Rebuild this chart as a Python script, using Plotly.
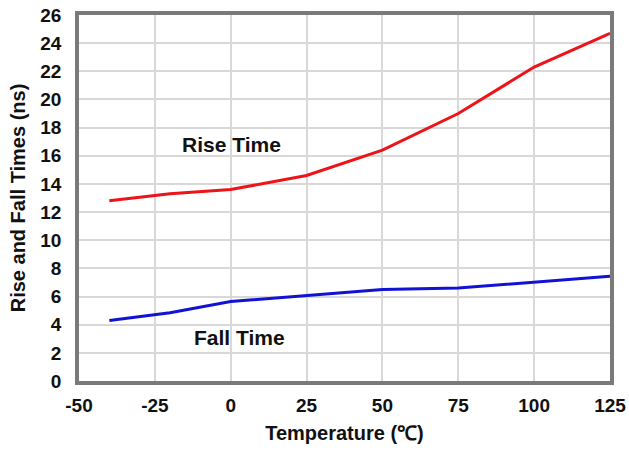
import plotly.graph_objects as go

temps = [-40, -20, 0, 25, 50, 75, 100, 125]
rise_ns = [12.8, 13.3, 13.6, 14.6, 16.4, 19.0, 22.3, 24.7]
fall_ns = [4.3, 4.85, 5.65, 6.1, 6.5, 6.6, 7.0, 7.45]

x_ticks = [-50, -25, 0, 25, 50, 75, 100, 125]
y_ticks = list(range(0, 27, 2))

font = "Liberation Sans, Arial, sans-serif"
ink = "#111111"

fig = go.Figure()
fig.add_trace(go.Scatter(x=temps, y=rise_ns, mode="lines", name="Rise Time",
                         line=dict(color="#ec1418", width=3)))
fig.add_trace(go.Scatter(x=temps, y=fall_ns, mode="lines", name="Fall Time",
                         line=dict(color="#1212d4", width=3)))

fig.add_annotation(x=0.3, y=16.8, text="<b>Rise Time</b>", showarrow=False,
                   font=dict(size=21, color=ink, family=font))
fig.add_annotation(x=3, y=3.1, text="<b>Fall Time</b>", showarrow=False,
                   font=dict(size=21, color=ink, family=font))

axis_common = dict(
    showgrid=True, gridcolor="#d8d8d8", gridwidth=2,
    showline=True, linecolor="#7a7a7a", linewidth=3.5, mirror=True,
    zeroline=False, ticks="", automargin=False, ticklabeloverflow="allow",
    tickfont=dict(size=19, color=ink, family=font),
)

fig.update_layout(
    width=629, height=454,
    plot_bgcolor="white", paper_bgcolor="white",
    showlegend=False,
    margin=dict(l=79, r=19, t=15, b=73),
    xaxis=dict(range=[-50, 125], tickvals=x_ticks,
               ticktext=[f"<b>{v}</b>" for v in x_ticks],
               ticklabelstandoff=4,
               title=dict(text="<b>Temperature (℃)</b>", standoff=12,
                          font=dict(size=20, color=ink, family=font)),
               **axis_common),
    yaxis=dict(range=[0, 26], tickvals=y_ticks,
               ticktext=[f"<b>{v}</b>" for v in y_ticks],
               ticklabelstandoff=10,
               title=dict(text="<b>Rise and Fall Times (ns)</b>", standoff=10,
                          font=dict(size=20, color=ink, family=font)),
               **axis_common),
)

# drop the default 8px body margin so the figure sits at the page corner
fig.write_html("out.html", config={"displayModeBar": False},
               post_script="document.body.style.margin = '0';")
